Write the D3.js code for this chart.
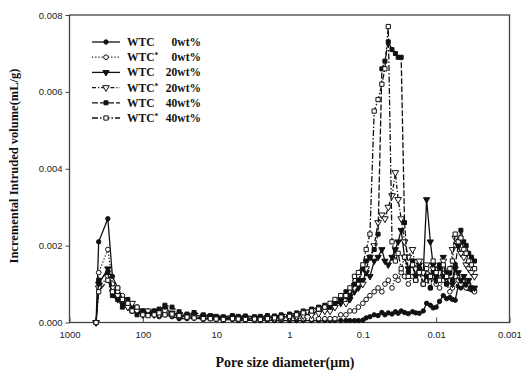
<!DOCTYPE html>
<html><head><meta charset="utf-8">
<script src="https://cdn.jsdelivr.net/npm/d3@7"></script>
<style>body{margin:0;background:#fff}svg{display:block}</style></head>
<body>
<svg id="c" width="521" height="374"></svg>
<script>
// Pore size diameter (μm)
const diameters = [434,400,300,260,220,190,160,140,120,100,
  85,70,60,50,40,32,25,20,15,12,10,8,6,5,4,3,2.5,2,1.6,1.3,1.0,0.8,0.65,0.5,0.4,0.33,
  0.28,0.24,0.2,0.17,0.15,0.13,0.115,0.1,0.09,0.08,0.07,0.062,0.055,0.05,0.045,0.04,0.036,0.033,0.03,
  0.027,0.024,0.021,0.019,0.017,0.015,0.0135,0.012,0.011,0.01,0.009,0.008,0.0072,0.0065,0.006,
  0.0055,0.005,0.0046,0.0042,0.0039,0.0036,0.0033,0.003];

// Incremental intruded volume (mL/g)
const wtc0 = [0,0.0021,0.0027,0.0012,0.0009,0.0006,0.0005,0.0004,0.0003,0.0003,
  0.0003,0.0002,0.00015,0.0002,0.00015,0.0001,0.0001,0.00012,0.00008,0.0001,0.00008,0.00006,0.00008,0.00005,0.00006,0.00005,0.00005,0.00006,0.00005,0.00005,0.00005,0.00005,0.00005,0.00005,0.00005,0.00005,
  0.00005,0.00005,0.00005,0.00005,0.00005,0.00005,0.00005,0.00006,0.00012,0.00015,0.0002,0.00018,0.00026,0.0002,0.00025,0.00022,0.00028,0.00024,0.0003,
  0.00026,0.00023,0.00028,0.00025,0.00024,0.0003,0.0005,0.00045,0.00038,0.0004,0.00055,0.0007,0.00062,0.00065,0.0006,
  0.00058,0.00095,0.0009,0.00098,0.0009,0.00088,0.00085,0.00083];
const wtcS0 = [0,0.0013,0.0019,0.0010,0.0008,0.0007,0.0005,0.0003,0.0004,0.0002,
  0.0002,0.0003,0.0002,0.00025,0.0002,0.00015,0.00012,0.00015,0.0001,0.00012,0.0001,0.00009,0.0001,0.00008,0.00009,0.00007,0.00008,0.00008,0.00009,0.0001,0.0001,0.00012,0.0001,0.00009,0.0001,0.0001,
  0.0001,0.0001,0.0002,0.0002,0.0003,0.0003,0.0004,0.0005,0.0006,0.0007,0.0008,0.0009,0.0008,0.0010,0.0011,0.0009,0.0012,0.0011,0.0013,
  0.0012,0.0010,0.0012,0.0011,0.0013,0.0010,0.0011,0.0009,0.0012,0.0010,0.0009,0.0011,0.0010,0.0008,0.0009,
  0.0012,0.0011,0.0010,0.0011,0.0009,0.0010,0.0009,0.0008];
const wtc20 = [0,0.0010,0.0014,0.0008,0.0006,0.0005,0.0004,0.0004,0.0003,0.0002,
  0.00025,0.0002,0.0003,0.00035,0.00025,0.0002,0.00018,0.0002,0.00015,0.00016,0.00014,0.00012,0.00013,0.0001,0.00012,0.0001,0.00012,0.00012,0.00013,0.00014,0.00015,0.00018,0.0002,0.00022,0.0003,0.00035,
  0.0004,0.0005,0.0005,0.0007,0.0006,0.0008,0.0009,0.0011,0.0013,0.0012,0.0016,0.0017,0.0019,0.0016,0.0015,0.0017,0.0019,0.0021,0.0024,
  0.0017,0.0014,0.0016,0.0012,0.0015,0.0013,0.0032,0.0021,0.0015,0.0012,0.0014,0.0017,0.0013,0.0011,0.0010,
  0.0014,0.0013,0.0011,0.0012,0.0010,0.0011,0.0009,0.0009];
const wtcS20 = [0,0.0009,0.0012,0.0009,0.0007,0.0006,0.0004,0.0005,0.0003,0.0003,
  0.0003,0.00025,0.0002,0.0003,0.0002,0.00018,0.00015,0.00014,0.00012,0.00013,0.00011,0.0001,0.00012,0.0001,0.0001,0.00009,0.0001,0.00011,0.0001,0.00012,0.00014,0.00016,0.00018,0.0002,0.00024,0.0003,
  0.0003,0.0004,0.0006,0.0005,0.0008,0.0009,0.0012,0.0010,0.0014,0.0017,0.0020,0.0026,0.0028,0.0027,0.0030,0.0033,0.0039,0.0032,0.0027,
  0.0021,0.0017,0.0019,0.0014,0.0016,0.0013,0.0015,0.0012,0.0014,0.0011,0.0013,0.0016,0.0012,0.0011,0.0019,
  0.0022,0.0020,0.0018,0.0017,0.0015,0.0014,0.0013,0.0012];
const wtc40 = [0,0.0011,0.0013,0.0007,0.0006,0.0004,0.0006,0.0003,0.0002,0.0003,
  0.0002,0.0003,0.00035,0.00045,0.0004,0.00028,0.00022,0.00026,0.0002,0.00018,0.00016,0.00015,0.00018,0.00016,0.00017,0.00015,0.00016,0.00018,0.00017,0.0002,0.00022,0.00025,0.0003,0.00035,0.0004,0.00045,
  0.0004,0.0005,0.0006,0.0008,0.0007,0.0010,0.0011,0.0014,0.0016,0.0017,0.0019,0.0023,0.0066,0.0068,0.0073,0.0071,0.0070,0.0069,0.0069,
  0.0026,0.0013,0.0016,0.0011,0.0014,0.0010,0.0012,0.0009,0.0013,0.0011,0.0015,0.0012,0.0010,0.0013,0.0011,
  0.0015,0.0020,0.0024,0.0021,0.0020,0.0018,0.0017,0.0016];
const wtcS40 = [0,0.0008,0.0011,0.0008,0.0009,0.0006,0.0005,0.0003,0.0004,0.0002,
  0.00018,0.0002,0.00025,0.0002,0.00022,0.00018,0.00014,0.00012,0.0001,0.0001,0.00009,0.00008,0.0001,0.00009,0.00008,0.00009,0.00008,0.0001,0.00012,0.00014,0.00016,0.0002,0.00025,0.0003,0.00035,0.0004,
  0.0005,0.0006,0.0007,0.0007,0.0009,0.0012,0.0013,0.0015,0.0019,0.0023,0.0055,0.0058,0.0062,0.0066,0.0077,0.0021,0.0016,0.0018,0.0014,
  0.0017,0.0012,0.0015,0.0011,0.0013,0.0010,0.0014,0.0012,0.0016,0.0013,0.0011,0.0015,0.0012,0.0014,0.0016,
  0.0023,0.0021,0.0022,0.0019,0.0018,0.0016,0.0015,0.0014];

const seriesValues = [wtc0, wtcS0, wtc20, wtcS20, wtc40, wtcS40];
const seriesNames = ["WTC", "WTC*", "WTC", "WTC*", "WTC", "WTC*"];
const seriesContents = ["0wt%", "0wt%", "20wt%", "20wt%", "40wt%", "40wt%"];
const xTicks = [1000, 100, 10, 1, 0.1, 0.01, 0.001];
const xTickLabels = ["1000", "100", "10", "1", "0.1", "0.01", "0.001"];
const yTicks = [0, 0.002, 0.004, 0.006, 0.008];
const yTickLabels = ["0.000", "0.002", "0.004", "0.006", "0.008"];
const xTitle = "Pore size diameter(\u03bcm)";
const yTitle = "Incremental Intruded volume(mL/g)";

// styles
const dashes = [null, "1.2,2", null, "4,2,1.2,2", "6,2", "6,2,1.5,2"];
const shapes = [d3.symbolCircle, d3.symbolCircle, d3.symbolTriangle, d3.symbolTriangle, d3.symbolSquare, d3.symbolSquare];
const filled = [true, false, true, false, true, false];
const sizes = [15, 17, 17, 19, 16, 18];

const svg = d3.select("#c");
const L = 69.5, R = 509.5, T = 15, B = 322.5;
const x = d3.scaleLog().domain([1000, 0.001]).range([L, R]);
const y = d3.scaleLinear().domain([0, 0.008]).range([B, T]);
const ink = "#111";

// frame
svg.append("rect").attr("x", L).attr("y", T).attr("width", R - L).attr("height", B - T)
  .attr("fill", "none").attr("stroke", "#444").attr("stroke-width", 1.3);

// x axis
const xAxis = d3.axisBottom(x).tickValues(xTicks).tickFormat((d, i) => xTickLabels[i]).tickSize(-5).tickPadding(9);
const gx = svg.append("g").attr("transform", `translate(0,${B})`).call(xAxis);
gx.select(".domain").remove();
gx.selectAll("line").attr("stroke", "#444");
gx.selectAll("text").attr("font-family", "Liberation Sans, Arial, sans-serif").attr("font-size", 9.5).attr("fill", "#222");

// y axis
const yAxis = d3.axisLeft(y).tickValues(yTicks).tickFormat((d, i) => yTickLabels[i]).tickSize(4).tickPadding(3);
const gy = svg.append("g").attr("transform", `translate(${L},0)`).call(yAxis);
gy.select(".domain").remove();
gy.selectAll("line").attr("stroke", "#444");
gy.selectAll("text").attr("font-family", "Liberation Sans, Arial, sans-serif").attr("font-size", 9.5).attr("fill", "#222");

// titles
svg.append("text").attr("x", 285).attr("y", 367).attr("text-anchor", "middle")
  .attr("font-family", "Liberation Serif, Times New Roman, serif").attr("font-weight", "bold")
  .attr("font-size", 14).attr("fill", ink).text(xTitle);
svg.append("text").attr("transform", "translate(18,166) rotate(-90)").attr("text-anchor", "middle")
  .attr("font-family", "Liberation Serif, Times New Roman, serif").attr("font-weight", "bold")
  .attr("font-size", 12.5).attr("fill", ink).text(yTitle);

// series
const line = d3.line().x(d => x(d[0])).y(d => y(d[1]));
const plot = svg.append("g");
seriesValues.forEach((vals, s) => {
  const pts = diameters.map((d, i) => [d, vals[i]]);
  plot.append("path").datum(pts).attr("d", line).attr("fill", "none")
    .attr("stroke", ink).attr("stroke-width", 1.3)
    .attr("stroke-dasharray", dashes[s]);
  const sym = d3.symbol().type(shapes[s]).size(sizes[s]);
  plot.append("g").selectAll("path").data(pts).join("path")
    .attr("d", sym)
    .attr("transform", d => `translate(${x(d[0])},${y(d[1])})` + (shapes[s] === d3.symbolTriangle ? " rotate(180)" : ""))
    .attr("fill", filled[s] ? ink : "#fff").attr("stroke", ink).attr("stroke-width", 1);
});

// legend
const lg = svg.append("g");
seriesNames.forEach((name, s) => {
  const yy = 42 + s * 15.2;
  lg.append("line").attr("x1", 92).attr("x2", 120).attr("y1", yy).attr("y2", yy)
    .attr("stroke", ink).attr("stroke-width", 1.3).attr("stroke-dasharray", dashes[s]);
  lg.append("path").attr("d", d3.symbol().type(shapes[s]).size(sizes[s])())
    .attr("transform", `translate(106,${yy})` + (shapes[s] === d3.symbolTriangle ? " rotate(180)" : ""))
    .attr("fill", filled[s] ? ink : "#fff").attr("stroke", ink).attr("stroke-width", 1);
  const t = lg.append("text").attr("x", 127).attr("y", yy + 4)
    .attr("font-family", "Liberation Serif, Times New Roman, serif").attr("font-weight", "bold")
    .attr("font-size", 11.5).attr("fill", ink);
  t.append("tspan").text("WTC");
  if (name.endsWith("*")) t.append("tspan").attr("font-size", 7.5).attr("dy", -3).text("*");
  lg.append("text").attr("x", 201).attr("y", yy + 4).attr("text-anchor", "end")
    .attr("font-family", "Liberation Serif, Times New Roman, serif").attr("font-weight", "bold")
    .attr("font-size", 11.5).attr("fill", ink).text(seriesContents[s]);
});
</script>
</body></html>
